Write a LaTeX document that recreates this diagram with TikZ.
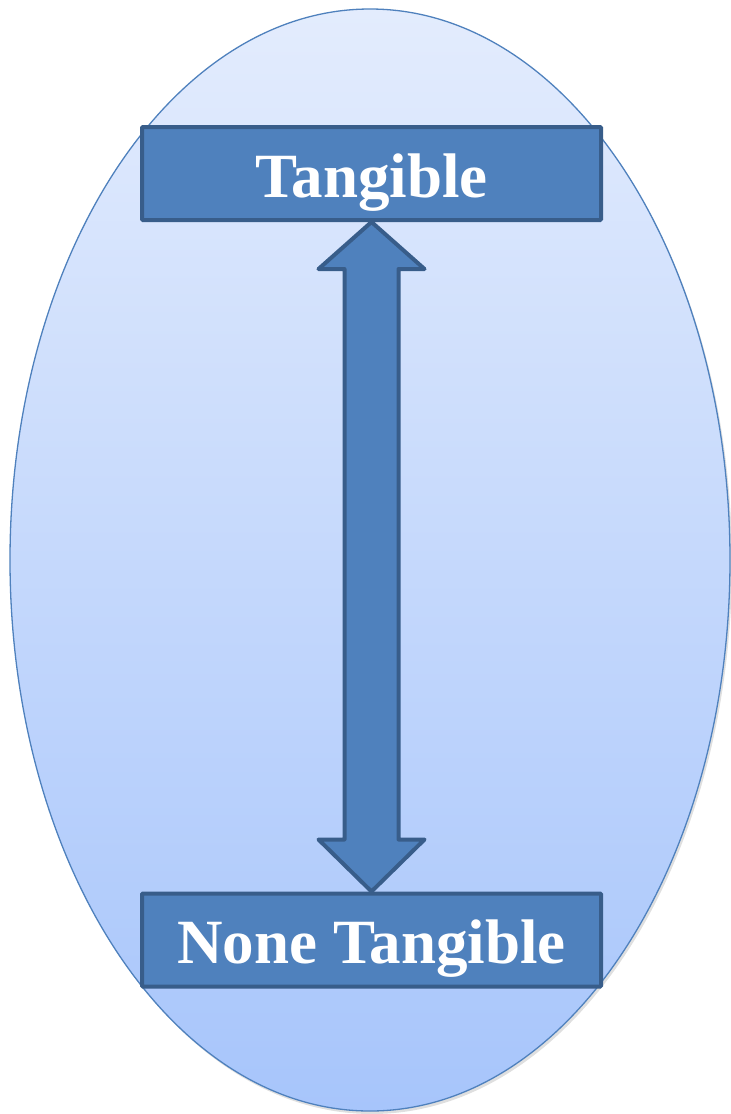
\documentclass[tikz,border=0pt]{standalone}
\usepackage{fontspec}
\setmainfont{Liberation Serif}
\usetikzlibrary{calc,shadows}
\definecolor{Boxfill}{RGB}{79,129,189}
\definecolor{Boxline}{RGB}{56,93,138}
\definecolor{Ovaltop}{RGB}{227,236,253}
\definecolor{Ovalbottom}{RGB}{167,197,251}
\begin{document}
\begin{tikzpicture}
[
x=1pt, y=-1pt,
Oval/.style={draw=Boxfill, line width=1.3pt, top color=Ovaltop, bottom color=Ovalbottom,
  drop shadow={shadow xshift=2pt, shadow yshift=-3pt, opacity=0.25}},
Label/.style={rectangle, draw=Boxline, fill=Boxfill, line width=4pt, rounded corners=1pt,
  minimum width=459pt, minimum height=93pt, inner sep=0pt,
  text height=47pt, text depth=0pt,
  text=white, font=\fontsize{63}{63}\selectfont\bfseries},
Arrowbody/.style={draw=Boxline, fill=Boxfill, line width=4pt, line join=round}
]
\useasboundingbox (0,0) rectangle (731,1114);

\draw[Oval] (370,560) ellipse [x radius=360, y radius=551];

\node[Label] (Top) at (371.5,173.5) {Tangible};
\node[Label] (Bottom) at (371.5,940) {None Tangible};

\draw[Arrowbody] (Top.south) -- ++(53,47) -- ++(-26,0)
  -- ($(Bottom.north)+(27,-52)$) -- ++(26,0) -- (Bottom.north)
  -- ++(-53,-52) -- ++(26,0)
  -- ($(Top.south)+(-27,47)$) -- ++(-26,0) -- cycle;
\end{tikzpicture}
\end{document}
